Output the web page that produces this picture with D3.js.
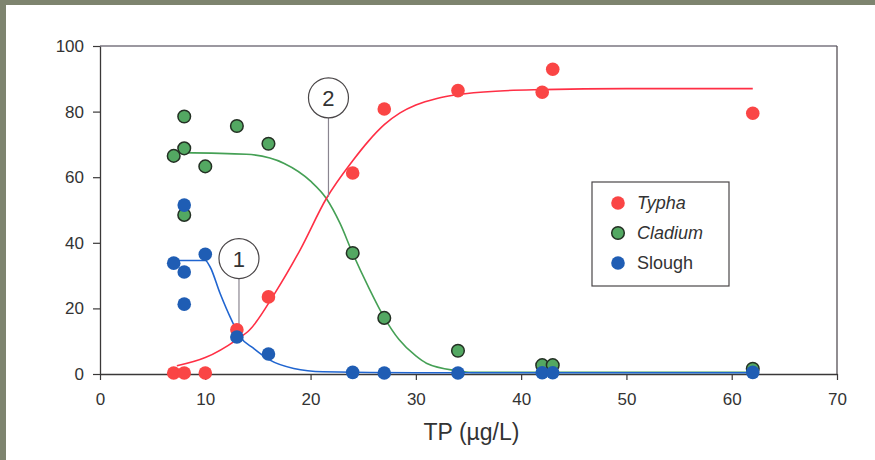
<!DOCTYPE html>
<html>
<head>
<meta charset="utf-8">
<script src="https://cdn.jsdelivr.net/npm/d3@7"></script>
<style>
  body { margin: 0; background: #7e846f; }
  svg { display: block; font-family: Arial, "Liberation Sans", sans-serif; }
</style>
</head>
<body>
<div id="chart"></div>
<script>
// Punkty pomiarowe (TP, % pokrycia)
var typhaX = [7, 8, 10, 13, 16, 24, 27, 34, 42, 43, 62];
var typhaY = [0.3, 0.3, 0.3, 13.5, 23.5, 61.3, 80.8, 86.4, 85.9, 92.9, 79.5];

var cladiumX = [7, 8, 8, 8, 10, 13, 16, 24, 27, 34, 42, 43, 62];
var cladiumY = [66.5, 78.5, 68.8, 48.5, 63.3, 75.6, 70.2, 36.9, 17.1, 7.1, 2.7, 2.7, 1.6];

var sloughX = [7, 8, 8, 8, 10, 13, 16, 24, 27, 34, 42, 43, 62];
var sloughY = [33.8, 51.5, 31.1, 21.3, 36.5, 11.3, 6.1, 0.5, 0.3, 0.3, 0.4, 0.4, 0.5];

// Krzywe dopasowania
var typhaFitX = [7.3, 10, 13, 14.2, 16.6, 19, 21.5, 24, 25.5, 27, 28.5, 30, 32, 34, 38, 42, 50, 62];
var typhaFitY = [2.5, 5, 10.5, 13.4, 24.6, 37.8, 53.5, 65, 71, 76, 79.6, 82, 84, 85.2, 86.3, 86.7, 87, 87];

var cladiumFitX = [7.85, 13.9, 17.5, 20, 21.5, 22.8, 24, 25.5, 27, 28.4, 30, 31, 33.9, 35.3, 45, 62];
var cladiumFitY = [67.5, 67, 64.2, 58.8, 53.5, 45.9, 36.8, 26.5, 17.2, 10.5, 5.5, 3.3, 1, 0.5, 0.5, 0.5];

var sloughFitX = [7, 10, 10.45, 11.4, 12.5, 13.3, 14.6, 16.1, 18.4, 21.2, 30, 62];
var sloughFitY = [34.6, 34.6, 32.7, 24.6, 16.4, 11.4, 7.8, 4.3, 1.7, 0.7, 0.4, 0.4];

var xTicks = [0, 10, 20, 30, 40, 50, 60, 70];
var yTicks = [0, 20, 40, 60, 80, 100];

// Objaśnienia: numer, TP, wartość wskazywana, położenie kółka (wartość y)
var calloutLabel = ["1", "2"];
var calloutX = [13.2, 21.7];
var calloutTip = [14.8, 54];
var calloutCircleY = [35.2, 84.2];

var legendNames = ["Typha", "Cladium", "Slough"];
var legendItalic = [true, true, false];

var colors = { typha: "#fa4545", cladium: "#53a862", slough: "#1f5db4" };
var lineColors = { typha: "#ff2f45", cladium: "#45a055", slough: "#2065d0" };

var W = 875, H = 460;
var margin = {top: 46, right: 38, bottom: 86, left: 100},
    width = W - margin.left - margin.right,
    height = H - margin.top - margin.bottom;

var root = d3.select("#chart").append("svg")
  .attr("width", W)
  .attr("height", H);

// białe tło panelu
root.append("rect")
  .attr("x", 6).attr("y", 5)
  .attr("width", W - 6).attr("height", H - 5)
  .attr("fill", "#ffffff");

var svg = root.append("g")
  .attr("transform", "translate(" + margin.left + "," + margin.top + ")");

var x = d3.scaleLinear().domain([0, 70]).range([0, width]);
var y = d3.scaleLinear().domain([0, 100]).range([height, 0]);

// ramka (góra i prawa)
svg.append("line")
  .attr("x1", 0).attr("x2", width).attr("y1", 0).attr("y2", 0)
  .attr("stroke", "#7a7680").attr("stroke-width", 1.3);
svg.append("line")
  .attr("x1", width).attr("x2", width).attr("y1", 0).attr("y2", height)
  .attr("stroke", "#555055").attr("stroke-width", 1.3);

// oś X
var xAxis = svg.append("g")
  .attr("transform", "translate(0," + height + ")")
  .call(d3.axisBottom(x).tickValues(xTicks).tickSize(6).tickPadding(13).tickSizeOuter(0));
// oś Y
var yAxis = svg.append("g")
  .call(d3.axisLeft(y).tickValues(yTicks).tickSize(7).tickPadding(9).tickSizeOuter(0));

[xAxis, yAxis].forEach(function(a) {
  a.select(".domain").attr("stroke", "#3a3838").attr("stroke-width", 1.3);
  a.selectAll(".tick line").attr("stroke", "#3a3838").attr("stroke-width", 1.2);
  a.selectAll(".tick text")
    .attr("fill", "#333")
    .style("font-size", "17px")
    .style("font-family", "Arial, 'Liberation Sans', sans-serif");
});

svg.append("text")
  .attr("x", x(35) + 3)
  .attr("y", height + 66)
  .attr("text-anchor", "middle")
  .attr("fill", "#333")
  .style("font-size", "23px")
  .text("TP (\u00b5g/L)");

// krzywe dopasowania
var line = d3.line()
  .x(function(d) { return x(d[0]); })
  .y(function(d) { return y(d[1]); })
  .curve(d3.curveMonotoneX);

function drawFit(xs, ys, col) {
  svg.append("path")
    .datum(d3.zip(xs, ys))
    .attr("fill", "none")
    .attr("stroke", col)
    .attr("stroke-width", 1.6)
    .attr("d", line);
}
drawFit(cladiumFitX, cladiumFitY, lineColors.cladium);
drawFit(sloughFitX, sloughFitY, lineColors.slough);
drawFit(typhaFitX, typhaFitY, lineColors.typha);

// objaśnienia 1 i 2
var r = 20;
calloutLabel.forEach(function(lab, i) {
  var cx = x(calloutX[i]), cy = y(calloutCircleY[i]);
  svg.append("line")
    .attr("x1", cx).attr("x2", cx)
    .attr("y1", cy + r).attr("y2", y(calloutTip[i]))
    .attr("stroke", "#8a8590").attr("stroke-width", 1.2);
  svg.append("circle")
    .attr("cx", cx).attr("cy", cy).attr("r", r)
    .attr("fill", "#fff")
    .attr("stroke", "#4a4648").attr("stroke-width", 1.2);
  svg.append("text")
    .attr("x", cx).attr("y", cy + 8)
    .attr("text-anchor", "middle")
    .attr("fill", "#333")
    .style("font-size", "22px")
    .text(lab);
});

// punkty
function drawPoints(xs, ys, col, outline) {
  svg.append("g").selectAll("circle")
    .data(d3.zip(xs, ys))
    .enter().append("circle")
      .attr("cx", function(d) { return x(d[0]); })
      .attr("cy", function(d) { return y(d[1]); })
      .attr("r", outline ? 6.3 : 6.8)
      .attr("fill", col)
      .attr("stroke", outline ? "#243024" : "none")
      .attr("stroke-width", outline ? 1.5 : 0);
}
drawPoints(cladiumX, cladiumY, colors.cladium, true);
drawPoints(typhaX, typhaY, colors.typha, false);
drawPoints(sloughX, sloughY, colors.slough, false);

// legenda
var legend = root.append("g")
  .attr("transform", "translate(592,182)");
legend.append("rect")
  .attr("width", 137).attr("height", 104)
  .attr("fill", "#fff")
  .attr("stroke", "#4a4648").attr("stroke-width", 1.2);

var legendCols = [colors.typha, colors.cladium, colors.slough];
legendNames.forEach(function(n, i) {
  var g = legend.append("g").attr("transform", "translate(0," + (21 + i * 30) + ")");
  g.append("circle")
    .attr("cx", 26).attr("cy", 0).attr("r", i === 1 ? 6.3 : 6.8)
    .attr("fill", legendCols[i])
    .attr("stroke", i === 1 ? "#243024" : "none")
    .attr("stroke-width", i === 1 ? 1.5 : 0);
  g.append("text")
    .attr("x", 45).attr("y", 6)
    .attr("fill", "#333")
    .style("font-size", "18px")
    .style("font-style", legendItalic[i] ? "italic" : "normal")
    .text(n);
});
</script>
</body>
</html>
